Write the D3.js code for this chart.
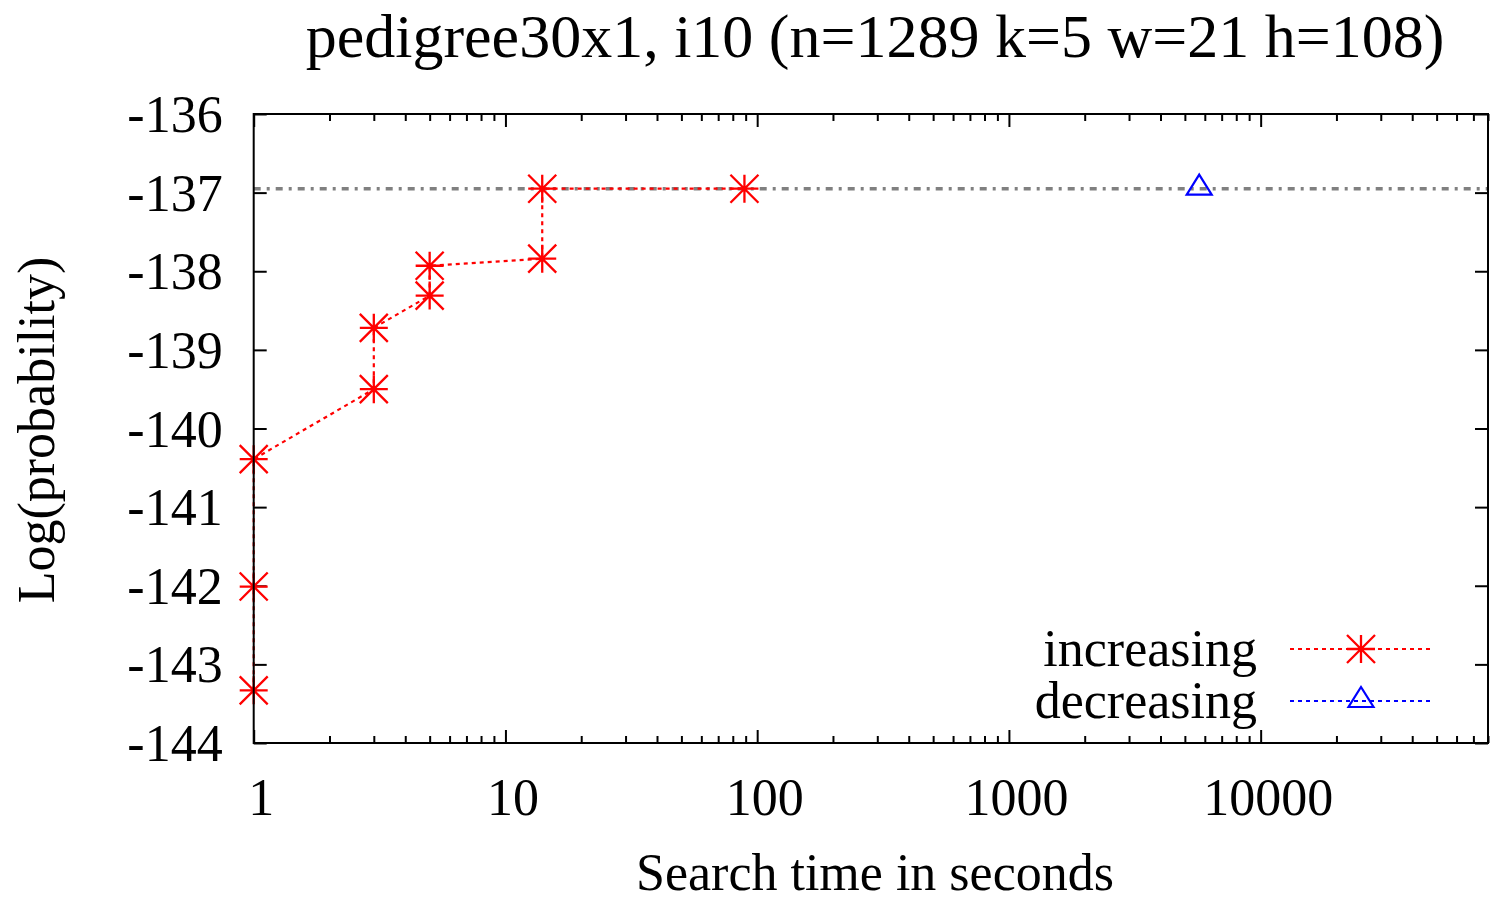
<!DOCTYPE html>
<html>
<head>
<meta charset="utf-8">
<script src="https://cdn.jsdelivr.net/npm/d3@7"></script>
<style>
  body { margin: 0; background: #fff; }
  text { font-family: "Liberation Serif", "Times New Roman", serif; fill: #000; }
</style>
</head>
<body>
<div id="chart"></div>
<script>
// data
const incTime = [1, 1, 1, 3, 3, 5, 5, 14, 14, 89]
const incLogP = [-143.33, -142.01, -140.39, -139.5, -138.72, -138.31, -137.93, -137.84, -136.95, -136.95]
const decTime = [5700]
const decLogP = [-136.95]
const bestLogP = -136.95
const xTicks = [1, 10, 100, 1000, 10000]
const yTicks = [-136, -137, -138, -139, -140, -141, -142, -143, -144]
const seriesNames = ['increasing', 'decreasing']

const w = 1490
const h = 900
const pL = 253.7, pR = 1488, pT = 114, pB = 743

const svg = d3.select('#chart').append('svg').attr('width', w).attr('height', h)

const xScale = d3.scaleLog().domain([1, 80000]).range([pL, pR])
const yScale = d3.scaleLinear().domain([-144, -136]).range([pB, pT])

// minor ticks for the log axis
let minor = []
for (let d = 1; d <= 10000; d *= 10) {
  for (let m = 2; m <= 9; m++) if (d * m <= 80000) minor.push(d * m)
}

const fmt = d => d3.format('d')(d)
const thick = g => { g.select('.domain').remove(); g.selectAll('.tick line').attr('stroke-width', 2) }

// bottom axis, ticks pointing in
const xA = d3.axisBottom(xScale).tickValues(xTicks).tickFormat(fmt).tickSizeInner(-13).tickPadding(0)
svg.append('g').attr('transform', 'translate(0,' + pB + ')').attr('id', 'x-axis').call(xA)
  .call(thick)
  .call(g => g.selectAll('.tick text').attr('x', 7).attr('y', 72).attr('dy', 0).style('font-size', '52px'))

svg.append('g').attr('transform', 'translate(0,' + pB + ')')
  .call(d3.axisBottom(xScale).tickValues(minor).tickFormat('').tickSizeInner(-7))
  .call(thick)

// top mirror
svg.append('g').attr('transform', 'translate(0,' + pT + ')')
  .call(d3.axisTop(xScale).tickValues(xTicks).tickFormat('').tickSizeInner(-13))
  .call(thick)
svg.append('g').attr('transform', 'translate(0,' + pT + ')')
  .call(d3.axisTop(xScale).tickValues(minor).tickFormat('').tickSizeInner(-7))
  .call(thick)

// y axis
const yA = d3.axisLeft(yScale).tickValues(yTicks).tickFormat(d => '-' + Math.abs(d)).tickSizeInner(-13).tickPadding(0)
svg.append('g').attr('transform', 'translate(' + pL + ',0)').attr('id', 'y-axis').call(yA)
  .call(thick)
  .call(g => g.selectAll('.tick text').attr('x', -31).attr('dy', 17.5).style('font-size', '52px'))

svg.append('g').attr('transform', 'translate(' + pR + ',0)')
  .call(d3.axisRight(yScale).tickValues(yTicks).tickFormat('').tickSizeInner(-13))
  .call(thick)

svg.selectAll('g').attr('font-family', null).attr('font-size', null)

// best value line
svg.append('line')
   .attr('x1', pL).attr('x2', pR)
   .attr('y1', yScale(bestLogP)).attr('y2', yScale(bestLogP))
   .attr('stroke', '#808080').attr('stroke-width', 3.5).attr('stroke-dasharray', '7,6,3,6')

const star = (g, x, y) => {
  const s = 14
  g.append('path')
   .attr('d', `M${x - s},${y}H${x + s}M${x},${y - s}V${y + s}M${x - s},${y - s}L${x + s},${y + s}M${x - s},${y + s}L${x + s},${y - s}`)
   .attr('stroke', 'red').attr('stroke-width', 2.3).attr('fill', 'none')
}
const tri = (g, x, y) => {
  g.append('path')
   .attr('d', `M${x},${y - 14}L${x + 12.5},${y + 6}L${x - 12.5},${y + 6}Z`)
   .attr('stroke', 'blue').attr('stroke-width', 2.2).attr('fill', 'none')
}

const inc = incTime.map((t, i) => [t, incLogP[i]])
const dec = decTime.map((t, i) => [t, decLogP[i]])

const line = d3.line().x(d => xScale(d[0])).y(d => yScale(d[1]))

svg.append('path').datum(inc).attr('d', line)
   .attr('fill', 'none').attr('stroke', 'red').attr('stroke-width', 2.2).attr('stroke-dasharray', '4,4')
svg.append('path').datum(dec).attr('d', line)
   .attr('fill', 'none').attr('stroke', 'blue').attr('stroke-width', 2.2).attr('stroke-dasharray', '4,4')

const pts = svg.append('g')
inc.forEach(d => star(pts, xScale(d[0]), yScale(d[1])))
dec.forEach(d => tri(pts, xScale(d[0]), yScale(d[1])))

// frame
svg.append('rect').attr('x', pL).attr('y', pT).attr('width', pR - pL).attr('height', pB - pT)
   .attr('fill', 'none').attr('stroke', '#000').attr('stroke-width', 2)

// legend
const legY = [649, 701]
const legG = svg.append('g')
seriesNames.forEach((n, i) => {
  legG.append('text').attr('x', 1257).attr('y', legY[i] + 17).attr('text-anchor', 'end')
      .style('font-size', '52px').text(n)
  legG.append('line').attr('x1', 1290).attr('x2', 1430).attr('y1', legY[i]).attr('y2', legY[i])
      .attr('stroke', i == 0 ? 'red' : 'blue').attr('stroke-width', 2.2).attr('stroke-dasharray', '4,4')
  if (i == 0) star(legG, 1361, legY[i])
  else tri(legG, 1361, legY[i])
})

// titles
svg.append('text').attr('x', 875).attr('y', 57).attr('text-anchor', 'middle')
   .style('font-size', '62px').text('pedigree30x1, i10 (n=1289 k=5 w=21 h=108)')

svg.append('text').attr('x', 875).attr('y', 890).attr('text-anchor', 'middle')
   .style('font-size', '52px').text('Search time in seconds')

svg.append('text').attr('transform', 'translate(54,430) rotate(-90)').attr('text-anchor', 'middle')
   .style('font-size', '52px').text('Log(probability)')
</script>
</body>
</html>
